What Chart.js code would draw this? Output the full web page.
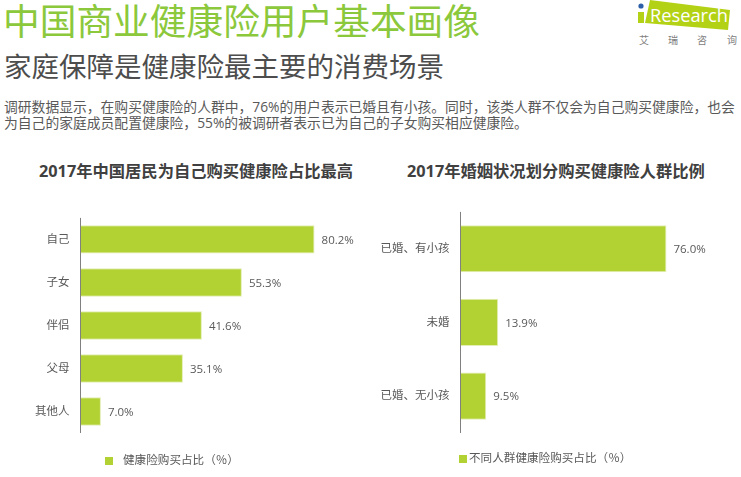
<!DOCTYPE html>
<html>
<head>
<meta charset="utf-8">
<script src="https://cdn.jsdelivr.net/npm/chart.js@4/dist/chart.umd.min.js"></script>
<style>
  html, body { margin: 0; padding: 0; background: #fff; }
  body { width: 741px; height: 477px; position: relative; overflow: hidden;
         font-family: "Open Sans", "Noto Sans CJK SC", sans-serif; }
  .txt { position: absolute; white-space: nowrap; line-height: 1; }
  #title { left: 3px; top: 3px; font-size: 36.7px; font-weight: 400; color: #8cc83c; }
  #subtitle { left: 4px; top: 53px; font-size: 27.5px; font-weight: 400; color: #4d4d4d; }
  .body-line { left: 4px; font-size: 13.8px; color: #595959; }
  .chart-title { font-size: 16.3px; font-weight: 700; color: #404040; top: 163px; }
  canvas { position: absolute; }
  #logo { position: absolute; left: 630px; top: 0; }
</style>
</head>
<body>
<div class="txt" id="title">中国商业健康险用户基本画像</div>
<div class="txt" id="subtitle">家庭保障是健康险最主要的消费场景</div>
<div class="txt body-line" style="top:100px">调研数据显示，在购买健康险的人群中，76%的用户表示已婚且有小孩。同时，该类人群不仅会为自己购买健康险，也会</div>
<div class="txt body-line" style="top:116px">为自己的家庭成员配置健康险，55%的被调研者表示已为自己的子女购买相应健康险。</div>
<div class="txt chart-title" style="left:39px">2017年中国居民为自己购买健康险占比最高</div>
<div class="txt chart-title" style="left:407px">2017年婚姻状况划分购买健康险人群比例</div>

<svg id="logo" width="111" height="50" viewBox="630 0 111 50">
  <polygon points="650,0 730,10 728,30 645,23" fill="#b4d215"/>
  <rect x="638" y="12" width="6" height="11" fill="#b4d215"/>
  <circle cx="641" cy="6" r="2.6" fill="#2d5fa8"/>
  <text x="650" y="22" font-family="Open Sans" font-size="19" fill="#fff" textLength="78" lengthAdjust="spacingAndGlyphs">Research</text>
  <g font-family="Noto Sans CJK SC" font-size="10" fill="#808080" text-anchor="middle">
    <text x="644" y="44">艾</text>
    <text x="673" y="44">瑞</text>
    <text x="702" y="44">咨</text>
    <text x="732" y="44">询</text>
  </g>
</svg>

<canvas id="chart-self" style="left:0;top:200px" width="370" height="277"></canvas>
<canvas id="chart-marriage" style="left:370px;top:194px" width="371" height="283"></canvas>

<script>
const selfCategories = ['自己', '子女', '伴侣', '父母', '其他人'];
const selfValues = [80.2, 55.3, 41.6, 35.1, 7.0];
const selfLegend = '健康险购买占比（％）';

const marriageCategories = ['已婚、有小孩', '未婚', '已婚、无小孩'];
const marriageValues = [76.0, 13.9, 9.5];
const marriageLegend = '不同人群健康险购买占比（％）';

const FONT = '"Open Sans", "Noto Sans CJK SC", sans-serif';
const BAR_COLOR = '#b1d232';
const TEXT_COLOR = '#595959';

// axis line, value labels next to the bars, plus the small legend under each chart
const barExtras = {
  id: 'barExtras',
  afterDatasetsDraw(chart, args, opts) {
    const ctx = chart.ctx;
    const ds = chart.data.datasets[0];
    const bars = chart.getDatasetMeta(0).data;
    const band = bars[1].y - bars[0].y;
    const axisTop = bars[0].y - band / 2;
    const axisBottom = bars[bars.length - 1].y + band / 2;
    ctx.save();
    ctx.fillStyle = '#808080';
    ctx.fillRect(chart.chartArea.left - 0.5, axisTop, 1, axisBottom - axisTop);
    ctx.font = '11.5px ' + FONT;
    ctx.fillStyle = TEXT_COLOR;
    ctx.textBaseline = 'middle';
    bars.forEach((bar, i) => {
      ctx.fillText(ds.data[i].toFixed(1) + '%', bar.x + 7, bar.y + 1);
    });
    ctx.fillStyle = BAR_COLOR;
    ctx.fillRect(opts.legendX, opts.legendY - 4, 8, 8);
    ctx.font = '11.6px ' + FONT;
    ctx.fillStyle = TEXT_COLOR;
    ctx.fillText(ds.label, opts.legendTextX, opts.legendY);
    ctx.restore();
  }
};

function drawBars(id, labels, values, legend, o) {
  new Chart(document.getElementById(id), {
    type: 'bar',
    data: {
      labels,
      datasets: [{
        label: legend,
        data: values,
        backgroundColor: BAR_COLOR,
        borderColor: '#e3eeb4',
        borderWidth: 1,
        barPercentage: o.barPercentage,
        categoryPercentage: 1,
      }]
    },
    options: {
      indexAxis: 'y',
      responsive: false,
      animation: false,
      layout: { padding: { top: o.top, bottom: o.bottom, left: 0, right: 0 } },
      plugins: {
        legend: { display: false },
        tooltip: { enabled: false },
        barExtras: { legendX: o.legendX, legendY: o.legendY, legendTextX: o.legendTextX },
      },
      scales: {
        x: { display: false, min: 0, max: o.xMax },
        y: {
          afterFit: scale => { scale.width = o.axisX; },
          grid: { display: false, drawTicks: false },
          border: { display: false },
          ticks: { color: TEXT_COLOR, padding: 11, font: { size: 11.5, family: FONT } },
        }
      }
    },
    plugins: [barExtras]
  });
}

drawBars('chart-self', selfCategories, selfValues, selfLegend, {
  top: 9, bottom: 44, axisX: 80.5, xMax: 99.2, barPercentage: 0.66,
  legendX: 105, legendY: 261, legendTextX: 123,
});
drawBars('chart-marriage', marriageCategories, marriageValues, marriageLegend, {
  top: 7, bottom: 44, axisX: 90.5, xMax: 103.5, barPercentage: 0.64,
  legendX: 89, legendY: 265, legendTextX: 99,
});
</script>
</body>
</html>
